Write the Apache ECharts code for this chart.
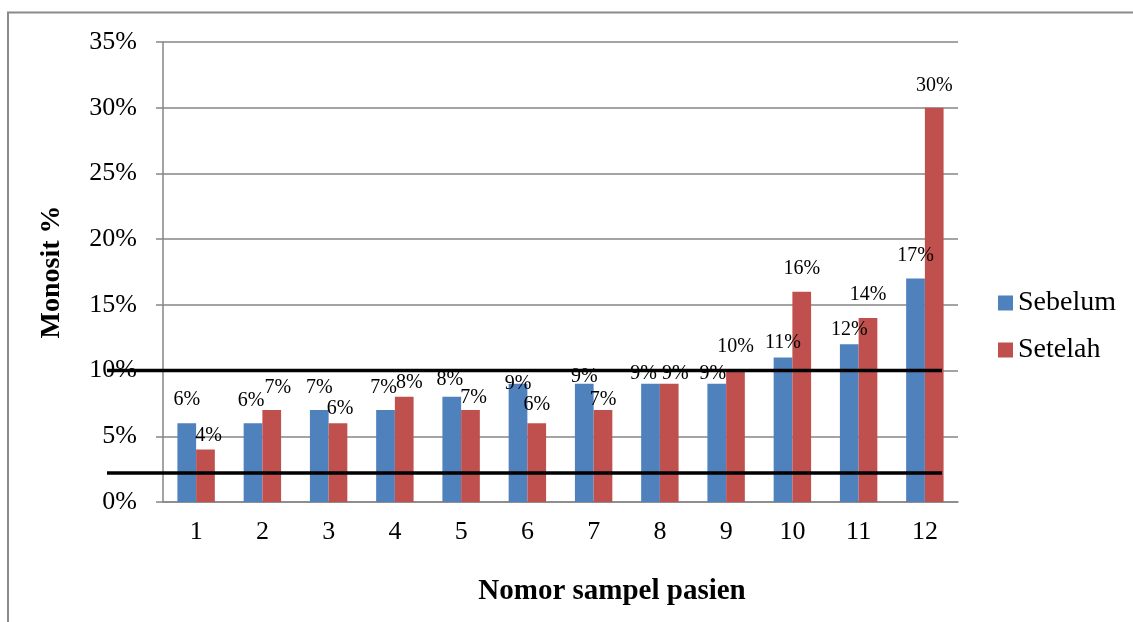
<!DOCTYPE html>
<html>
<head>
<meta charset="utf-8">
<script src="https://cdn.jsdelivr.net/npm/echarts@6/dist/echarts.min.js"></script>
<style>
html,body{margin:0;padding:0;background:#fff;}
#c{width:1133px;height:622px;}
</style>
</head>
<body>
<div id="c"></div>
<script>
// ---- data ----
const categories = ['1','2','3','4','5','6','7','8','9','10','11','12'];
const sebelum = [6, 6, 7, 7, 8, 9, 9, 9, 9, 11, 12, 17];
const setelah = [4, 7, 6, 8, 7, 6, 7, 9, 10, 16, 14, 30];
const seriesNames = ['Sebelum', 'Setelah'];
const refLines = [10, 2.2];          // normal range lines (%)
const yTicks = { min: 0, max: 35, interval: 5 };
// label nudges (px) mimicking the hand-placed labels of the original
const liftSebelum = [23, 22, 22, 22, 17, 0, 7, 10, 10, 15, 15, 23];
const liftSetelah = [14, 22, 14, 14, 12, 18, 10, 10, 24, 23, 23, 22];
const shiftSebelum = [0, -2, 0, -2, -2, 0, 0, -7, -4, 0, 0, 0];
const shiftSetelah = [3, 6, 2, 5, 3, 0, 0, 6, 0, 0, 0, 0];

const FONT = "'Liberation Serif','Times New Roman',serif";
const chart = echarts.init(document.getElementById('c'), null, {renderer: 'canvas'});

function mk(vals, lifts, shifts) {
  return vals.map((v, i) => ({ value: v, label: { offset: [shifts[i], -(lifts[i] - 10)] } }));
}

const option = {
  animation: false,
  backgroundColor: '#fff',
  grid: { left: 163, right: 175, top: 42, bottom: 120, containLabel: false },
  legend: {
    orient: 'vertical', left: 993, top: 284, itemGap: 19,
    itemWidth: 15, itemHeight: 15, icon: 'rect',
    textStyle: { fontFamily: FONT, fontSize: 28, color: '#000' },
    data: seriesNames
  },
  xAxis: {
    type: 'category', data: categories,
    axisLine: { lineStyle: { color: '#868686', width: 1.5 } },
    axisTick: { show: false },
    axisLabel: { fontFamily: FONT, fontSize: 26, color: '#000', margin: 17 }
  },
  yAxis: {
    type: 'value', min: yTicks.min, max: yTicks.max, interval: yTicks.interval,
    name: 'Monosit %', nameLocation: 'middle', nameGap: 97, nameRotate: 90,
    nameTextStyle: { fontFamily: FONT, fontSize: 28, fontWeight: 'bold', color: '#000' },
    axisLine: { show: true, lineStyle: { color: '#868686', width: 1.5 } },
    axisTick: { show: true, length: 7, lineStyle: { color: '#868686', width: 1.5 } },
    splitLine: { lineStyle: { color: '#868686', width: 1.5 } },
    axisLabel: { fontFamily: FONT, fontSize: 26, color: '#000', margin: 26, formatter: '{value}%' }
  },
  series: [
    {
      name: seriesNames[0], type: 'bar', data: mk(sebelum, liftSebelum, shiftSebelum),
      itemStyle: { color: '#4F81BD' },
      barGap: '0%', barCategoryGap: '43.5%',
      label: { show: true, position: 'top', distance: 0, formatter: '{c}%',
        fontFamily: FONT, fontSize: 20, color: '#000' }
    },
    {
      name: seriesNames[1], type: 'bar', data: mk(setelah, liftSetelah, shiftSetelah),
      itemStyle: { color: '#C0504D' },
      barGap: '0%', barCategoryGap: '43.5%',
      label: { show: true, position: 'top', distance: 0, formatter: '{c}%',
        fontFamily: FONT, fontSize: 20, color: '#000' }
    }
  ]
};
chart.setOption(option);

// overlay graphics: outer frame, x-axis title, black reference lines
const g = [
  { type: 'rect', shape: { x: 8, y: 12.5, width: 1300, height: 800 },
    style: { fill: 'none', stroke: '#8a8a8a', lineWidth: 2 }, z: 0, silent: true },
  { type: 'text', x: 612, y: 592,
    style: { text: 'Nomor sampel pasien', font: "bold 29px " + FONT, fill: '#000',
      textAlign: 'center', textVerticalAlign: 'middle' }, z: 10 }
];
refLines.forEach(v => {
  const y = chart.convertToPixel({ yAxisIndex: 0 }, v);
  g.push({ type: 'line', shape: { x1: 107, y1: y, x2: 942, y2: y },
    style: { stroke: '#000', lineWidth: 3.5 }, z: 100, silent: true });
});
chart.setOption({ graphic: g });
</script>
</body>
</html>
